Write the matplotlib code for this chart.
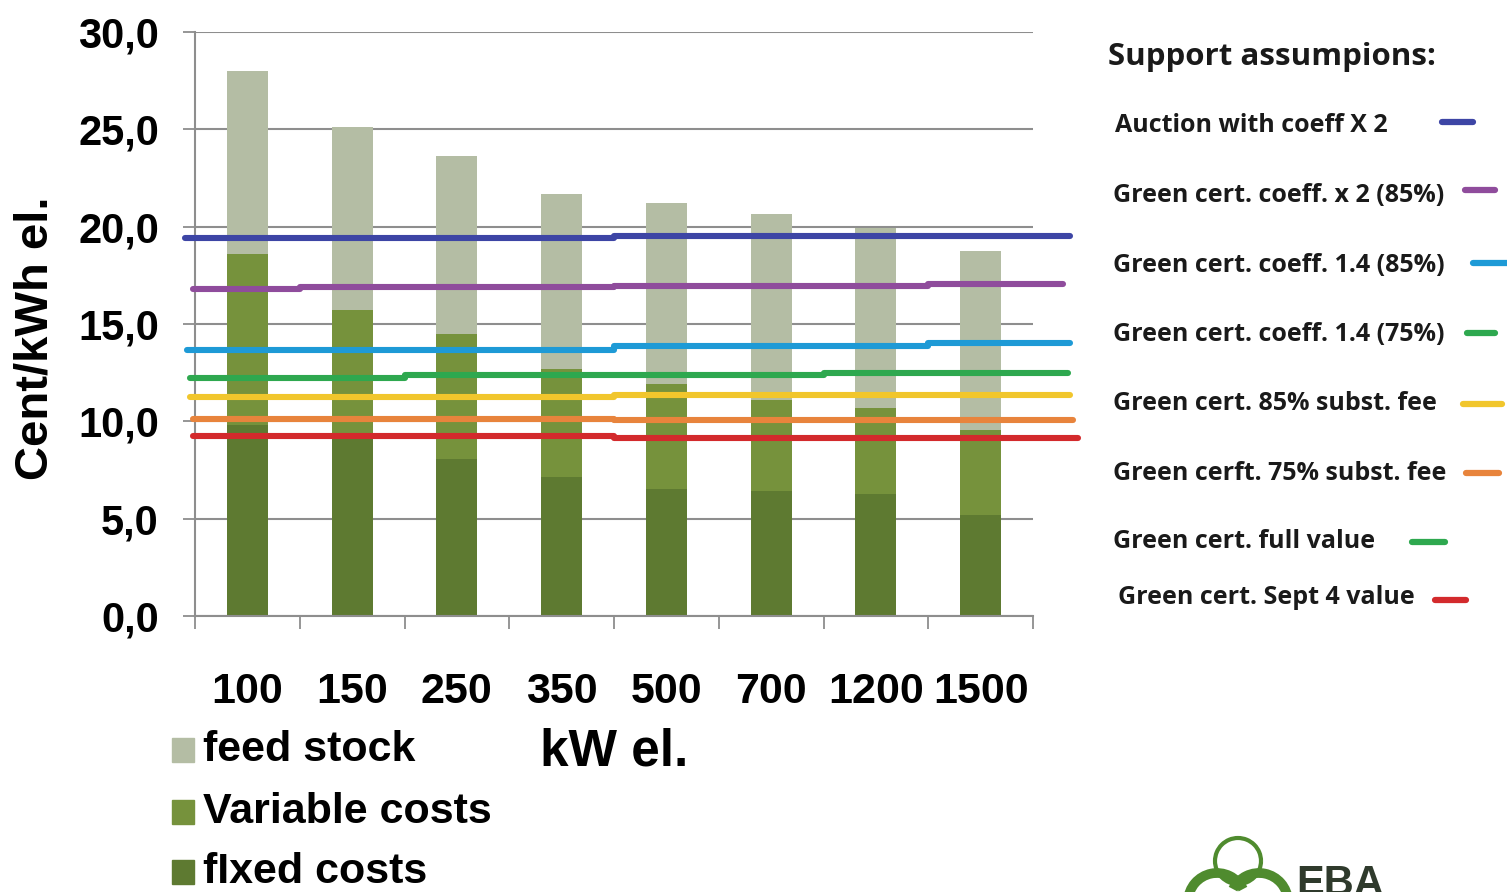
import matplotlib
matplotlib.use("Agg")
import matplotlib.pyplot as plt
import matplotlib.font_manager as fm
from matplotlib.lines import Line2D
from matplotlib.patches import Rectangle, Arc
import numpy as np

# ---------------- data ----------------
categories = ["100", "150", "250", "350", "500", "700", "1200", "1500"]
fixed_costs = [9.8, 9.2, 8.05, 7.15, 6.5, 6.4, 6.25, 5.2]
variable_top = [18.6, 15.7, 14.5, 12.7, 11.9, 11.1, 10.7, 9.55]
total_cost = [28.0, 25.1, 23.65, 21.7, 21.2, 20.65, 19.95, 18.75]
variable_costs = [v - f for v, f in zip(variable_top, fixed_costs)]
feed_stock = [t - v for t, v in zip(total_cost, variable_top)]

support_names = ["Auction with coeff X 2", "Green cert. coeff. x 2 (85%)",
                 "Green cert. coeff. 1.4 (85%)", "Green cert. coeff. 1.4 (75%)",
                 "Green cert. 85% subst. fee", "Green cerft. 75% subst. fee",
                 "Green cert. full value", "Green cert. Sept 4 value"]
auction_x2 = [19.4, 19.4, 19.4, 19.4, 19.5, 19.5, 19.5, 19.5]
gc_x2_85 = [16.8, 16.9, 16.9, 16.9, 16.95, 16.95, 16.95, 17.05]
gc_14_85 = [13.65, 13.65, 13.65, 13.65, 13.85, 13.85, 13.85, 14.0]
gc_14_75 = [12.25, 12.25, 12.4, 12.4, 12.4, 12.4, 12.5, 12.5]
gc_85_fee = [11.25, 11.25, 11.25, 11.25, 11.35, 11.35, 11.35, 11.35]
gc_75_fee = [10.1, 10.1, 10.1, 10.1, 10.05, 10.05, 10.05, 10.05]
gc_sept4 = [9.25, 9.25, 9.25, 9.25, 9.15, 9.15, 9.15, 9.15]
yticks = [0, 5, 10, 15, 20, 25, 30]
ytick_labels = ["0,0", "5,0", "10,0", "15,0", "20,0", "25,0", "30,0"]

# ---------------- styles ----------------
W, H = 1507, 892
C_FEED = "#B4BDA4"
C_VAR = "#76923C"
C_FIX = "#5E7A31"
line_series = [auction_x2, gc_x2_85, gc_14_85, gc_14_75, gc_85_fee, gc_75_fee, gc_sept4]
line_colors = ["#3D45A5", "#8F4C9C", "#1E9AD6", "#2EA84F", "#F1C62C", "#E8843C", "#D32A2C"]
line_start = [-0.6, -0.52, -0.58, -0.55, -0.55, -0.52, -0.52]
line_end = [7.85, 7.79, 7.85, 7.83, 7.85, 7.88, 7.93]

names = {f.name for f in fm.fontManager.ttflist}
if "Liberation Sans Narrow" in names:
    NARROW = ["Liberation Sans Narrow", "DejaVu Sans"]
    narrow_size = 39
else:
    NARROW = ["Liberation Sans", "DejaVu Sans"]
    narrow_size = 31
ARIAL = ["Liberation Sans", "DejaVu Sans"]
OPEN = ["Open Sans", "DejaVu Sans"]


def fx(px):
    return px / W


def fy(py):
    return 1 - py / H


fig = plt.figure(figsize=(W / 100, H / 100), dpi=100)
ax = fig.add_axes([fx(195), fy(616), fx(1033) - fx(195), fy(32) - fy(616)])

x = np.arange(len(categories))
bw = 0.39
ax.bar(x, fixed_costs, bw, color=C_FIX, zorder=2)
ax.bar(x, variable_costs, bw, bottom=fixed_costs, color=C_VAR, zorder=2)
ax.bar(x, feed_stock, bw, bottom=variable_top, color=C_FEED, zorder=2)

for vals, col, s, e in zip(line_series, line_colors, line_start, line_end):
    xs = [s] + list(x) + [e]
    ys = [vals[0]] + list(vals) + [vals[-1]]
    ax.plot(xs, ys, color=col, lw=4.4, solid_capstyle="round", solid_joinstyle="round",
            drawstyle="steps-mid", zorder=3, clip_on=False)

ax.set_xlim(-0.5, 7.5)
ax.set_ylim(0, 30)
ax.set_yticks(yticks)
ax.set_yticklabels(ytick_labels, fontfamily=ARIAL, fontweight="bold", fontsize=30)
ax.yaxis.grid(True, color="#8E8E8E", lw=1.5, zorder=1)
ax.set_axisbelow(True)
ax.tick_params(axis="y", length=9, width=1.3, color="#8E8E8E", pad=17)

ax.set_xticks(x)
ax.set_xticklabels(categories, fontfamily=NARROW, fontweight="bold", fontsize=narrow_size)
ax.set_xticks(np.arange(-0.5, 8, 1.0), minor=True)
ax.tick_params(axis="x", which="major", length=0, pad=40)
ax.tick_params(axis="x", which="minor", length=9, width=1.3, color="#8E8E8E")

for sp in ["top", "right"]:
    ax.spines[sp].set_visible(False)
for sp in ["left", "bottom"]:
    ax.spines[sp].set_color("#8E8E8E")
    ax.spines[sp].set_linewidth(1.5)

fig.text(fx(36), fy(338), "Cent/kWh el.", rotation=90, ha="center", va="center",
         fontfamily=ARIAL, fontweight="bold", fontsize=34)
fig.text(fx(614), fy(752), "kW el.", ha="center", va="center",
         fontfamily=ARIAL, fontweight="bold", fontsize=37)

# bottom-left legend
leg_items = [("feed stock", C_FEED, 750), ("Variable costs", C_VAR, 812), ("fIxed costs", C_FIX, 872)]
for label, col, yc in leg_items:
    fig.patches.append(Rectangle((fx(172), fy(yc + 12)), fx(22), fy(yc - 12) - fy(yc + 12),
                                 transform=fig.transFigure, color=col))
    fig.text(fx(203), fy(yc), label, ha="left", va="center",
             fontfamily=NARROW, fontweight="bold", fontsize=narrow_size)

# right legend (support assumptions)
fig.text(fx(1108), fy(57), "Support assumpions:", ha="left", va="center",
         fontfamily=OPEN, fontweight="bold", fontsize=22.5, color="#1a1a1a")
leg_y = [125, 195, 265, 334, 404, 473, 542, 598]
leg_tx = [1115, 1113, 1113, 1113, 1113, 1113, 1113, 1118]
leg_cols = ["#3D45A5", "#8F4C9C", "#1E9AD6", "#2EA84F", "#F1C62C", "#E8843C", "#2EA84F", "#D32A2C"]
leg_seg = [(1442, 1473), (1465, 1495), (1473, 1507), (1467, 1495),
           (1463, 1502), (1466, 1499), (1412, 1445), (1435, 1466)]
leg_ly = [122, 190, 263, 333, 404, 473, 542, 600]
for name, yc, tx, col, (a, b), ly in zip(support_names, leg_y, leg_tx, leg_cols, leg_seg, leg_ly):
    fig.text(fx(tx), fy(yc), name, ha="left", va="center",
             fontfamily=OPEN, fontweight="bold", fontsize=18, color="#1a1a1a")
    fig.add_artist(Line2D([fx(a), fx(b)], [fy(ly), fy(ly)], color=col, lw=4.5,
                          solid_capstyle="round", transform=fig.transFigure))

# EBA logo (partially cut at the bottom, as in the original slide)
G = "#4F8B2E"
fig.add_artist(Arc((fx(1238), fy(861)), 46 / W, 46 / H, theta1=0, theta2=360,
                   transform=fig.transFigure, color=G, lw=3))
fig.add_artist(Arc((fx(1217), fy(902)), 58 / W, 58 / H, theta1=40, theta2=175,
                   transform=fig.transFigure, color=G, lw=7))
fig.add_artist(Arc((fx(1259), fy(902)), 58 / W, 58 / H, theta1=5, theta2=140,
                   transform=fig.transFigure, color=G, lw=7))
fig.text(fx(1296), fy(864), "EBA", ha="left", va="top", fontfamily=ARIAL,
         fontweight="bold", fontsize=30, color="#2F3A2C")

fig.savefig("out.png", dpi=100, facecolor="white")
